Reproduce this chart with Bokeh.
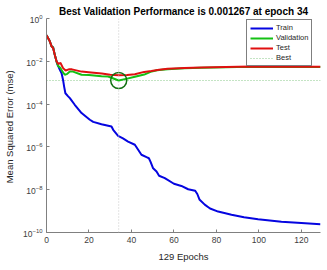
from bokeh.plotting import figure
from bokeh.models import Range1d, FixedTicker, Legend, LegendItem, Span
from bokeh.embed import file_html
from bokeh.resources import INLINE

# ---- data ----
n_epochs = 129
best_epoch = 34
best_perf = 0.001267

train_epoch = [0, 1.5, 2.4, 3.1, 3.9, 5.0, 6.3, 7.1, 7.8, 8.3, 8.9, 10.2, 11.0, 13.3, 16.5,
               20.4, 22.0, 25.9, 30.6, 31.4, 33.7, 36.0, 38.4, 41.6, 44.7, 47.1, 48.2, 49.0,
               50.2, 51.8, 53.0, 55.7, 60.0, 63.5, 66.7, 70.0, 71.0, 72.0, 74.5, 77.0, 80.8,
               87.1, 93.0, 99.6, 110.6, 120.0, 129.0]
train_mse = [1.66e-1, 8.9e-2, 5.0e-2, 4.5e-2, 2.0e-2, 7.9e-3, 4.0e-3, 2.75e-3, 1.35e-3,
             6.6e-4, 3.2e-4, 2.3e-4, 1.9e-4, 9.3e-5, 3.8e-5, 1.86e-5, 1.48e-5, 1.15e-5,
             8.9e-6, 6.3e-6, 3.3e-6, 2.5e-6, 1.78e-6, 1.26e-6, 4.3e-7, 3.3e-7, 2.95e-7,
             2.0e-7, 1.0e-7, 7.1e-8, 4.5e-8, 3.5e-8, 1.9e-8, 1.5e-8, 1.05e-8, 8.9e-9,
             6.3e-9, 3.5e-9, 2.0e-9, 1.32e-9, 9.5e-10, 6.8e-10, 5.2e-10, 4.2e-10,
             3.2e-10, 2.8e-10, 2.4e-10]

val_epoch = [0, 1.5, 2.4, 3.1, 3.9, 4.7, 5.5, 6.6, 7.6, 8.6, 9.8, 11.0, 12.5, 16.5, 20.0,
             25.9, 29.0, 34.0, 38.0, 41.6, 46.0, 49.0, 52.0, 57.0, 65.0, 73.0, 90.0, 129.0]
val_mse = [1.66e-1, 8.9e-2, 5.0e-2, 4.5e-2, 2.0e-2, 1.0e-2, 6.0e-3, 4.8e-3, 3.2e-3,
           2.35e-3, 2.6e-3, 3.3e-3, 3.3e-3, 2.35e-3, 2.3e-3, 2.0e-3, 1.95e-3, 1.267e-3,
           1.55e-3, 1.9e-3, 2.4e-3, 3.2e-3, 3.8e-3, 4.3e-3, 4.7e-3, 5.0e-3, 5.4e-3, 5.4e-3]

test_epoch = [0, 1.5, 2.4, 3.1, 3.9, 4.7, 5.5, 6.6, 7.8, 9.0, 10.5, 12.0, 16.5, 21.0,
              26.0, 30.0, 34.0, 38.0, 41.6, 46.0, 49.4, 53.0, 57.0, 65.0, 73.0, 96.0, 129.0]
test_mse = [1.66e-1, 8.9e-2, 5.0e-2, 4.2e-2, 2.0e-2, 1.0e-2, 7.6e-3, 8.3e-3, 4.8e-3,
            3.7e-3, 4.2e-3, 4.2e-3, 3.3e-3, 3.0e-3, 2.7e-3, 2.35e-3, 2.2e-3, 2.3e-3,
            2.5e-3, 3.2e-3, 3.5e-3, 4.0e-3, 4.5e-3, 4.8e-3, 5.1e-3, 5.75e-3, 5.6e-3]

y_ticks = [1e-10, 1e-8, 1e-6, 1e-4, 1e-2, 1e0]
x_ticks = [0, 20, 40, 60, 80, 100, 120]

title_text = "Best Validation Performance is 0.001267 at epoch 34"

# ---- figure ----
p = figure(frame_width=274, frame_height=214, output_backend="svg", toolbar_location=None,
           y_axis_type="log",
           x_range=Range1d(0, n_epochs), y_range=Range1d(1e-10, 1e0),
           min_border_left=37, min_border_right=4, min_border_top=18, min_border_bottom=30)
p.title.text = title_text
p.title.align = "center"
p.title.text_font = "Liberation Sans"
p.title.text_font_style = "bold"
p.title.text_font_size = "10px"
p.title.text_color = "#000000"
p.title.standoff = 4

p.outline_line_color = None
p.xgrid.visible = False
p.ygrid.visible = False

for ax in (p.xaxis[0], p.yaxis[0]):
    ax.axis_line_color = "#808080"
    ax.major_tick_line_color = "#808080"
    ax.major_tick_in = 3
    ax.major_tick_out = 0
    ax.minor_tick_line_color = None
    ax.major_label_text_font = "Liberation Sans"
    ax.major_label_text_font_size = "8.5px"
    ax.major_label_text_color = "#404040"
    ax.axis_label_text_font = "Liberation Sans"
    ax.axis_label_text_font_size = "9.5px"
    ax.axis_label_text_font_style = "normal"
    ax.axis_label_text_color = "#262626"

p.xaxis.ticker = FixedTicker(ticks=x_ticks)
p.yaxis.ticker = FixedTicker(ticks=y_ticks)
p.xaxis.axis_label = f"{n_epochs} Epochs"
p.yaxis.axis_label = "Mean Squared Error  (mse)"
p.xaxis.axis_label_standoff = 5
p.yaxis.axis_label_standoff = 5
p.xaxis.major_label_standoff = 4
p.yaxis.major_label_standoff = 4

# best markers
p.add_layout(Span(location=best_epoch, dimension="height", line_color="#c8c8c8",
                  line_dash="1 2", line_width=1))
r_best = p.line([0, n_epochs], [best_perf, best_perf], line_color="#88c888",
                line_dash="1 2", line_width=1)

r_train = p.line(train_epoch, train_mse, line_color="#0505e0", line_width=2)
r_val = p.line(val_epoch, val_mse, line_color="#14c014", line_width=2)
r_test = p.line(test_epoch, test_mse, line_color="#e01010", line_width=2)

p.scatter([best_epoch], [best_perf], marker="circle", size=16, fill_color=None,
          line_color="#107010", line_width=1.5)

legend = Legend(items=[LegendItem(label="Train", renderers=[r_train]),
                       LegendItem(label="Validation", renderers=[r_val]),
                       LegendItem(label="Test", renderers=[r_test]),
                       LegendItem(label="Best", renderers=[r_best])],
                location=(200, 166))
legend.label_text_font = "Liberation Sans"
legend.label_text_font_size = "7.5px"
legend.label_text_color = "#262626"
legend.label_height = 8
legend.label_standoff = 3
legend.glyph_height = 8
legend.glyph_width = 23
legend.spacing = 1
legend.padding = 3
legend.margin = 0
legend.border_line_color = "#000000"
legend.border_line_width = 1
legend.background_fill_color = "white"
legend.background_fill_alpha = 1.0
p.add_layout(legend)

open("out.html", "w").write(file_html(p, INLINE))
